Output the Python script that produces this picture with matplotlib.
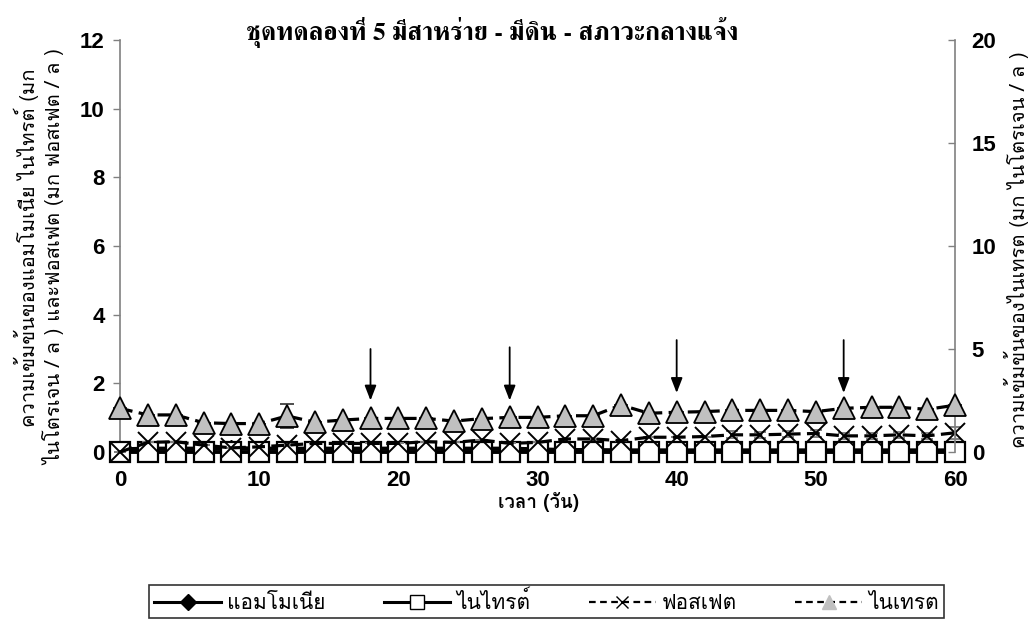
import numpy as np
import matplotlib
matplotlib.use("Agg")
import matplotlib.pyplot as plt
from matplotlib import font_manager as fm
from matplotlib.ft2font import FT2Font
from matplotlib.lines import Line2D

# ---------------- data ----------------
days = [0, 2, 4, 6, 8, 10, 12, 14, 16, 18, 20, 22, 24, 26, 28, 30,
        32, 34, 36, 38, 40, 42, 44, 46, 48, 50, 52, 54, 56, 58, 60]
ammonia = [0.08, 0.1, 0.1, 0.1, 0.12, 0.1, 0.1, 0.1, 0.1, 0.1, 0.1, 0.1, 0.1, 0.1, 0.1, 0.08,
           0.06, 0.06, 0.05, 0.05, 0.05, 0.05, 0.05, 0.05, 0.05, 0.05, 0.05, 0.05, 0.05, 0.05, 0.05]
nitrite = [0.0] * 31
phosphate = [0.0, 0.28, 0.3, 0.2, 0.12, 0.15, 0.2, 0.25, 0.25, 0.25, 0.25, 0.3, 0.28, 0.35, 0.25, 0.28,
             0.38, 0.38, 0.33, 0.43, 0.43, 0.45, 0.5, 0.5, 0.52, 0.54, 0.47, 0.47, 0.5, 0.47, 0.56]
phosphate_err = [0, 0, 0, 0, 0, 0, 0, 0, 0, 0, 0, 0, 0, 0, 0, 0,
                 0, 0, 0, 0, 0, 0, 0.1, 0.08, 0.08, 0.1, 0.08, 0.08, 0.08, 0.08, 0.17]
nitrate = [2.12, 1.8, 1.8, 1.42, 1.38, 1.38, 1.75, 1.45, 1.55, 1.63, 1.63, 1.63, 1.5, 1.62, 1.68, 1.68,
           1.76, 1.76, 2.28, 1.88, 1.93, 1.96, 2.02, 2.02, 2.02, 1.96, 2.12, 2.17, 2.17, 2.07, 2.27]
nitrate_err = [0, 0, 0, 0, 0, 0, 0.58, 0, 0, 0, 0, 0, 0, 0, 0, 0,
               0, 0, 0, 0, 0, 0, 0, 0, 0, 0, 0, 0, 0, 0, 0]
arrow_days = [18, 28, 40, 52]
arrow_top = [3.0, 3.05, 3.26, 3.26]
arrow_tip = [1.5, 1.5, 1.72, 1.72]

title = "ชุดทดลองที่ 5 มีสาหร่าย - มีดิน - สภาวะกลางแจ้ง"
xlabel = "เวลา (วัน)"
ylabel_left_1 = "ความเข้มข้นของแอมโมเนีย ไนไทรต์ (มก"
ylabel_left_2 = "ไนโตรเจน / ล ) และฟอสเฟต (มก ฟอสเฟต / ล )"
ylabel_right = "ความเข้มข้นของไนเทรต (มก ไนโตรเจน / ล )"
legend_labels = ["แอมโมเนีย", "ไนไทรต์", "ฟอสเฟต", "ไนเทรต"]
xticks = [0, 10, 20, 30, 40, 50, 60]
yticks_left = [0, 2, 4, 6, 8, 10, 12]
yticks_right = [0, 5, 10, 15, 20]

# ---------------- fonts ----------------
def find_thai_families():
    fams = []
    for f in fm.fontManager.ttflist:
        try:
            cm = FT2Font(f.fname).get_charmap()
        except Exception:
            continue
        if 0x0E01 in cm and f.name not in fams:
            fams.append(f.name)
    return fams

thai = find_thai_families()
fam = thai + ["DejaVu Sans"]
serif_first = [f for f in thai if "Serif" in f] + [f for f in thai if "Serif" not in f] + ["DejaVu Sans"]
plt.rcParams["font.family"] = fam
num_font = ["Liberation Sans", "DejaVu Sans"]

W, H = 1035, 626
fig = plt.figure(figsize=(W / 100, H / 100), dpi=100)
L, R, T, B = 120, 955, 40, 452
ax = fig.add_axes([L / W, 1 - B / H, (R - L) / W, (B - T) / H])
ax2 = ax.twinx()

grey = "#808080"
# left-axis series
ax.plot(days, ammonia, color="black", lw=2.8, marker="D", ms=8, mfc="black", mec="black",
        zorder=3, clip_on=False)
ax.plot(days, nitrite, color="black", lw=2.8, marker="s", ms=14.5, mfc="white", mec="black", mew=1.6,
        zorder=4, clip_on=False)
eb1 = ax.errorbar(days, phosphate, yerr=phosphate_err, color="black", lw=2.3, ls=(0, (4, 2)),
                  marker="x", ms=14.5, mew=1.4, ecolor=grey, elinewidth=1, capsize=4, zorder=5)
# right-axis series
eb2 = ax2.errorbar(days, nitrate, yerr=nitrate_err, color="black", lw=2.3, ls=(0, (4, 2)),
                   marker="^", ms=16, mfc="#c0c0c0", mec="black", mew=1.3,
                   ecolor="#404040", elinewidth=1.2, capsize=5, zorder=5)
for eb in (eb1, eb2):
    for child in eb.get_children():
        child.set_clip_on(False)

for d, t0, t1 in zip(arrow_days, arrow_top, arrow_tip):
    ax.annotate("", xy=(d, t1), xytext=(d, t0),
                arrowprops=dict(arrowstyle="-|>,head_length=0.9,head_width=0.35",
                                color="black", lw=1.3, shrinkA=0, shrinkB=0))

ax.set_xlim(0, 60)
ax.set_ylim(0, 12)
ax2.set_ylim(0, 20)
ax.set_xticks(xticks)
ax.set_xticks(days, minor=True)
ax.set_yticks(yticks_left)
ax2.set_yticks(yticks_right)

for a in (ax, ax2):
    a.spines["top"].set_visible(False)
    for s in ("left", "right", "bottom"):
        a.spines[s].set_color(grey)
        a.spines[s].set_linewidth(1.2)
    a.set_facecolor("none")
ax.spines["right"].set_visible(False)
ax2.spines["left"].set_visible(False)
ax2.spines["bottom"].set_visible(False)

ax.tick_params(axis="x", which="both", direction="out", length=5, color=grey, width=1, pad=8)
ax.tick_params(axis="y", direction="out", length=5, color=grey, width=1, pad=6)
ax2.tick_params(axis="y", direction="in", length=5, color=grey, width=1, pad=12)
for lab in ax.get_xticklabels() + ax.get_yticklabels() + ax2.get_yticklabels():
    lab.set_fontfamily(num_font)
    lab.set_fontweight("bold")
    lab.set_fontsize(16)

fig.text(492 / W, 1 - 33 / H, title, ha="center", va="center", fontsize=18.5, fontweight="bold",
         family=serif_first)
fig.text(538 / W, 1 - 502 / H, xlabel, ha="center", va="center", fontsize=13.5, fontweight="bold")
fig.text(26 / W, 1 - 248 / H, ylabel_left_1, rotation=90, ha="center", va="center", fontsize=14.5)
fig.text(54 / W, 1 - 257 / H, ylabel_left_2, rotation=90, ha="center", va="center", fontsize=14.5)
fig.text(1016 / W, 1 - 250 / H, ylabel_right, rotation=90, ha="center", va="center", fontsize=14.5)

handles = [
    Line2D([], [], color="black", lw=2.2, marker="D", ms=8, mfc="black"),
    Line2D([], [], color="black", lw=2.2, marker="s", ms=10, mfc="white", mec="black"),
    Line2D([], [], color="black", lw=1.6, ls=(0, (3, 2)), marker="x", ms=9, mew=1),
    Line2D([], [], color="black", lw=1.6, ls=(0, (3, 2)), marker="^", ms=10, mfc="#c0c0c0", mec="#c0c0c0"),
]
leg = fig.legend(handles, legend_labels, loc="lower left",
                 bbox_to_anchor=(149 / W, 1 - 618 / H, 795 / W, 35 / H), mode="expand",
                 ncol=4, frameon=True, fancybox=False, fontsize=15, handlelength=3.2,
                 columnspacing=1.0, handletextpad=0.3, borderpad=0.25, borderaxespad=0)
leg.get_frame().set_edgecolor("black")
leg.get_frame().set_linewidth(1.2)

fig.savefig("out.png", dpi=100)
